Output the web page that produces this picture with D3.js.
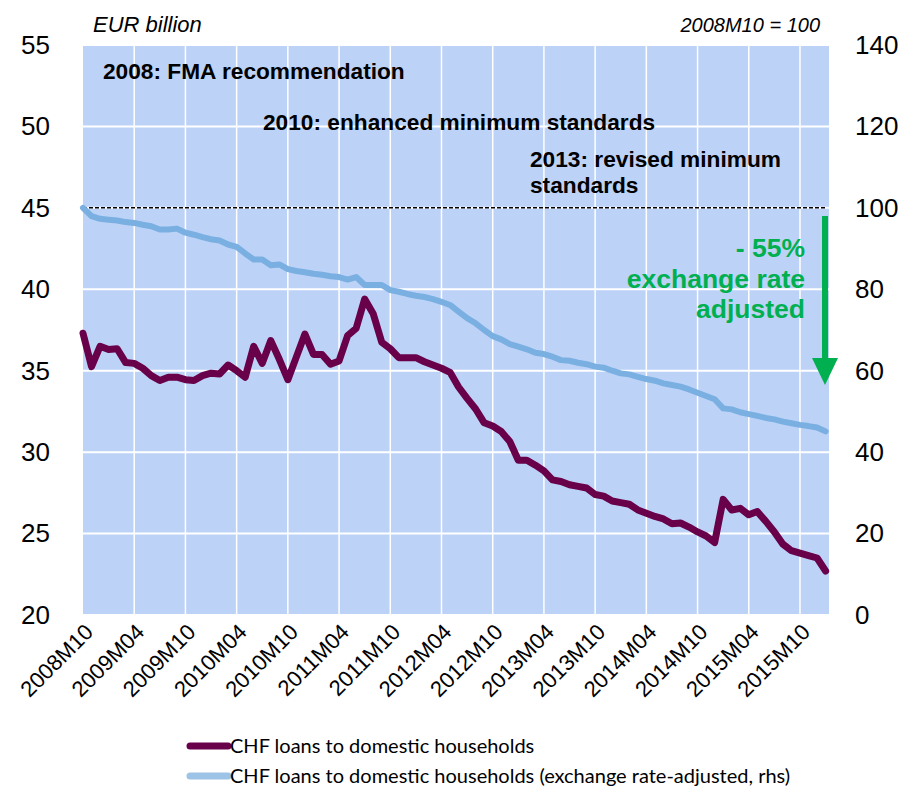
<!DOCTYPE html>
<html>
<head>
<meta charset="utf-8">
<script src="https://cdn.jsdelivr.net/npm/d3@7"></script>
<style>
  body { margin: 0; background: #fff; }
  svg text { font-family: "Liberation Sans", Arial, sans-serif; }
</style>
</head>
<body>
<div id="chart"></div>
<script>
// monthly data, 2008M10 .. 2016M01
var startYear = 2008, startMonth = 10, nMonths = 88;

// EUR billion (lhs)
var chfLoans = [
  37.3, 35.25, 36.5, 36.3, 36.35, 35.5, 35.45, 35.15, 34.7, 34.4,
  34.6, 34.6, 34.45, 34.4, 34.7, 34.85, 34.8, 35.35, 35.0, 34.6,
  36.5, 35.45, 36.85, 35.7, 34.45, 35.85, 37.25, 36.0, 36.0, 35.4,
  35.6, 37.15, 37.6, 39.4, 38.5, 36.75, 36.35, 35.8, 35.8, 35.8,
  35.55, 35.35, 35.15, 34.9, 34.0, 33.3, 32.65, 31.8, 31.6, 31.27,
  30.65, 29.5, 29.5, 29.2, 28.85, 28.3, 28.2, 28.0, 27.9, 27.8,
  27.4, 27.3, 27.0, 26.9, 26.8, 26.45, 26.25, 26.05, 25.9, 25.6,
  25.65, 25.4, 25.1, 24.85, 24.45, 27.1, 26.45, 26.55, 26.15, 26.35,
  25.75, 25.1, 24.35, 23.95, 23.8, 23.65, 23.5, 22.7
];

// index 2008M10 = 100 (rhs)
var chfLoansAdj = [
  100, 97.95, 97.3, 97.1, 96.9, 96.5, 96.3, 95.85, 95.5, 94.7,
  94.7, 94.9, 93.9, 93.4, 92.8, 92.3, 92.0, 91.0, 90.4, 88.8,
  87.3, 87.3, 85.9, 86.1, 84.95, 84.5, 84.2, 83.8, 83.55, 83.2,
  83.0, 82.4, 83.0, 81.05, 81.05, 81.05, 79.8, 79.4, 78.85, 78.4,
  78.1, 77.6, 76.9, 76.15, 74.5, 72.9, 71.65, 70.0, 68.5, 67.7,
  66.55, 65.9, 65.25, 64.4, 64.1, 63.45, 62.6, 62.45, 61.95, 61.6,
  61.0, 60.75, 60.0, 59.35, 59.1, 58.5, 57.95, 57.55, 56.9, 56.5,
  56.1, 55.4, 54.6, 53.8, 53.0, 50.75, 50.5, 49.8, 49.35, 48.9,
  48.4, 48.05, 47.5, 47.1, 46.7, 46.4, 46.05, 45.1
];

var leftTicks = [20, 25, 30, 35, 40, 45, 50, 55];
var rightTicks = [0, 20, 40, 60, 80, 100, 120, 140];

// month labels like 2008M10
var months = [];
for (var i = 0; i < nMonths; i++) {
  var m = startMonth - 1 + i;
  var yr = startYear + Math.floor(m / 12);
  var mm = (m % 12) + 1;
  months.push(yr + 'M' + (mm < 10 ? '0' + mm : mm));
}
var tickIdx = d3.range(0, nMonths, 6);

var width = 904, height = 788;
var plot = { left: 83, right: 829, top: 45, bottom: 615 };

var svg = d3.select('#chart').append('svg')
  .attr('width', width)
  .attr('height', height);

var x = d3.scaleLinear().domain([0, nMonths - 1]).range([plot.left, 825.6]);
var yL = d3.scaleLinear().domain([20, 55]).range([plot.bottom, plot.top]);
var yR = d3.scaleLinear().domain([0, 140]).range([plot.bottom, plot.top]);

// plot background
svg.append('rect')
  .attr('x', plot.left).attr('y', plot.top)
  .attr('width', plot.right - plot.left)
  .attr('height', plot.bottom - plot.top)
  .attr('fill', '#bdd2f7');

// gridlines
svg.append('g').selectAll('line.h')
  .data(leftTicks)
  .enter().append('line')
  .attr('x1', plot.left).attr('x2', plot.right)
  .attr('y1', function (d) { return yL(d); })
  .attr('y2', function (d) { return yL(d); })
  .attr('stroke', '#fff').attr('stroke-width', 2);

svg.append('g').selectAll('line.v')
  .data(tickIdx.slice(1))
  .enter().append('line')
  .attr('x1', function (d) { return x(d); })
  .attr('x2', function (d) { return x(d); })
  .attr('y1', plot.top).attr('y2', plot.bottom)
  .attr('stroke', '#fff').attr('stroke-width', 1.5);

// y axes (labels only)
var axL = svg.append('g')
  .attr('transform', 'translate(' + 50 + ',0)')
  .call(d3.axisLeft(yL).tickValues(leftTicks).tickSize(0).tickPadding(0));
var axR = svg.append('g')
  .attr('transform', 'translate(' + 855 + ',0)')
  .call(d3.axisRight(yR).tickValues(rightTicks).tickSize(0).tickPadding(0));
[axL, axR].forEach(function (ax) {
  ax.select('.domain').remove();
  ax.selectAll('text')
    .style('font-family', '"Liberation Sans", Arial, sans-serif')
    .style('font-size', '26px')
    .attr('fill', '#000');
});

// x axis labels, rotated
svg.append('g').selectAll('text')
  .data(tickIdx)
  .enter().append('text')
  .attr('transform', function (d) {
    return 'translate(' + (x(d) + 6) + ',' + (plot.bottom + 13) + ') rotate(-45)';
  })
  .attr('text-anchor', 'end')
  .attr('dy', '0.35em')
  .style('font-size', '22px')
  .text(function (d) { return months[d]; });

// reference line at 100
svg.append('line')
  .attr('x1', plot.left).attr('x2', 827)
  .attr('y1', yR(100)).attr('y2', yR(100))
  .attr('stroke', '#000')
  .attr('stroke-width', 1.5)
  .attr('stroke-dasharray', '4,2');

// series
var lineL = d3.line()
  .x(function (d, i) { return x(i); })
  .y(function (d) { return yL(d); });
var lineR = d3.line()
  .x(function (d, i) { return x(i); })
  .y(function (d) { return yR(d); });

svg.append('path')
  .datum(chfLoans)
  .attr('d', lineL)
  .attr('fill', 'none')
  .attr('stroke', '#68004a')
  .attr('stroke-width', 7)
  .attr('stroke-linejoin', 'round')
  .attr('stroke-linecap', 'round');

svg.append('path')
  .datum(chfLoansAdj)
  .attr('d', lineR)
  .attr('fill', 'none')
  .attr('stroke', '#7aafe2')
  .attr('stroke-width', 6)
  .attr('stroke-linejoin', 'round')
  .attr('stroke-linecap', 'round');

// unit labels
svg.append('text')
  .attr('x', 93).attr('y', 32)
  .style('font-size', '22px').style('font-style', 'italic')
  .text('EUR billion');
svg.append('text')
  .attr('x', 820).attr('y', 32)
  .attr('text-anchor', 'end')
  .style('font-size', '20px').style('font-style', 'italic')
  .text('2008M10 = 100');

// annotations
var notes = [
  { x: 103, y: 79, lines: ['2008: FMA recommendation'] },
  { x: 263, y: 130, lines: ['2010: enhanced minimum standards'] },
  { x: 530, y: 167, lines: ['2013: revised minimum', 'standards'] }
];
notes.forEach(function (n) {
  var t = svg.append('text')
    .attr('x', n.x).attr('y', n.y)
    .style('font-size', '22.7px').style('font-weight', 'bold');
  n.lines.forEach(function (s, k) {
    t.append('tspan').attr('x', n.x).attr('dy', k === 0 ? 0 : 26).text(s);
  });
});

var green = '#00b050';
var gt = svg.append('text')
  .attr('x', 805).attr('y', 257)
  .attr('text-anchor', 'end')
  .attr('fill', green)
  .style('font-size', '26.5px').style('font-weight', 'bold');
['- 55%', 'exchange rate', 'adjusted'].forEach(function (s, k) {
  gt.append('tspan').attr('x', 805).attr('dy', k === 0 ? 0 : 30.5).text(s);
});

// arrow
svg.append('line')
  .attr('x1', 825).attr('x2', 825)
  .attr('y1', yR(98)).attr('y2', 360)
  .attr('stroke', green).attr('stroke-width', 6);
svg.append('path')
  .attr('d', 'M812,358 L838,358 L825,385 Z')
  .attr('fill', green);

// legend
var legend = [
  { label: 'CHF loans to domestic households', color: '#68004a' },
  { label: 'CHF loans to domestic households (exchange rate-adjusted, rhs)', color: '#9dc3e6' }
];
var lg = svg.append('g').selectAll('g')
  .data(legend)
  .enter().append('g')
  .attr('transform', function (d, i) { return 'translate(188,' + (746 + i * 30) + ')'; });
lg.append('line')
  .attr('x1', 2).attr('x2', 40)
  .attr('stroke', function (d) { return d.color; })
  .attr('stroke-width', 7)
  .attr('stroke-linecap', 'round');
lg.append('text')
  .attr('x', 42).attr('dy', '0.35em')
  .style('font-family', 'Lato, "Open Sans", sans-serif')
  .style('font-size', '20px')
  .text(function (d) { return d.label; });
</script>
</body>
</html>
